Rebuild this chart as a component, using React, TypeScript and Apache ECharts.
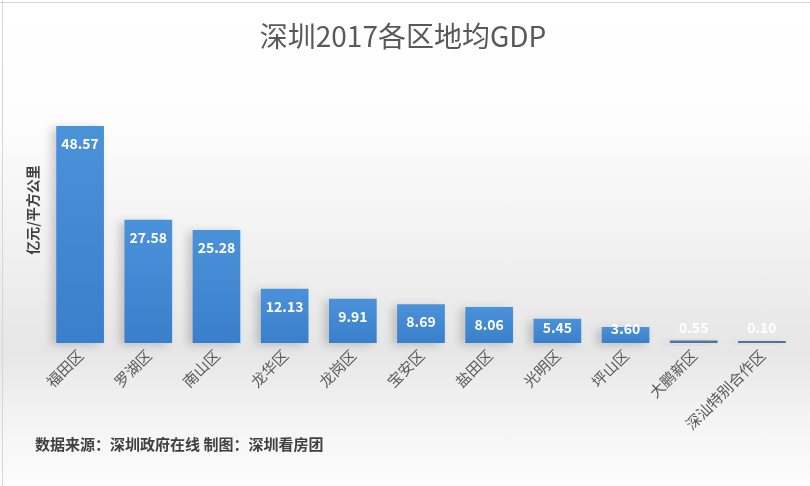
import React, { useEffect, useRef } from "react";
import * as echarts from "echarts";

const titleText = "深圳2017各区地均GDP";
const yAxisName = "亿元/平方公里";
const sourceText = "数据来源：深圳政府在线 制图：深圳看房团";
const districts = [
  "福田区",
  "罗湖区",
  "南山区",
  "龙华区",
  "龙岗区",
  "宝安区",
  "盐田区",
  "光明区",
  "坪山区",
  "大鹏新区",
  "深汕特别合作区",
];
const gdpPerKm2 = [48.57, 27.58, 25.28, 12.13, 9.91, 8.69, 8.06, 5.45, 3.6, 0.55, 0.1];

const FONT = '"Noto Sans CJK SC", "Noto Sans", sans-serif';

export default function App() {
  const ref = useRef<HTMLDivElement>(null);
  useEffect(() => {
    if (!ref.current) return;
    const chart = echarts.init(ref.current, null, { renderer: "svg" });
    const barColor = new echarts.graphic.LinearGradient(0, 0, 0, 1, [
      { offset: 0, color: "#4b92d9" },
      { offset: 1, color: "#3a7fcb" },
    ]);
    const data = gdpPerKm2.map((v) => {
      let label: any;
      let itemStyle: any;
      if (v < 1) {
        label = { position: "top", distance: 7 };
        itemStyle = { color: "#52739f" };
      } else if (v < 5) label = { position: "top", distance: -8 };
      else if (v < 7) label = { position: "insideTop", distance: 1 };
      else label = { position: "insideTop", distance: 10 };
      return itemStyle ? { value: v, label, itemStyle } : { value: v, label };
    });
    chart.setOption({
      animation: false,
      graphic: [
        {
          type: "rect",
          z: -100,
          silent: true,
          shape: { x: 0, y: 0, width: 810, height: 486 },
          style: {
            fill: new echarts.graphic.LinearGradient(0, 0, 0, 1, [
              { offset: 0, color: "#ffffff" },
              { offset: 0.25, color: "#fdfdfd" },
              { offset: 0.55, color: "#efefef" },
              { offset: 0.72, color: "#e6e6e6" },
              { offset: 0.85, color: "#f3f3f3" },
              { offset: 1, color: "#fcfcfc" },
            ]),
          },
        },
        {
          type: "line",
          silent: true,
          shape: { x1: 0, y1: 2.5, x2: 810, y2: 2.5 },
          style: { stroke: "#d6d6d6", lineWidth: 1 },
        },
        {
          type: "line",
          silent: true,
          shape: { x1: 2.5, y1: 0, x2: 2.5, y2: 486 },
          style: { stroke: "#d6d6d6", lineWidth: 1 },
        },
        {
          type: "text",
          x: 403,
          y: 35,
          style: {
            text: titleText,
            fill: "#595959",
            font: `normal 28px ${FONT}`,
            textAlign: "center",
            textVerticalAlign: "middle",
          },
        },
        {
          type: "text",
          x: 32,
          y: 210,
          rotation: Math.PI / 2,
          style: {
            text: yAxisName,
            fill: "#404040",
            font: `bold 14px ${FONT}`,
            textAlign: "center",
            textVerticalAlign: "middle",
          },
        },
        {
          type: "text",
          x: 35,
          y: 443,
          style: {
            text: sourceText,
            fill: "#404040",
            font: `bold 15px ${FONT}`,
            textAlign: "left",
            textVerticalAlign: "middle",
          },
        },
      ],
      grid: { left: 46, right: 14, top: 75, bottom: 143, containLabel: false },
      xAxis: {
        type: "category",
        data: districts,
        axisLine: { show: false },
        axisTick: { show: false },
        axisLabel: {
          rotate: 45,
          margin: 9,
          color: "#595959",
          fontSize: 15,
          fontFamily: FONT,
          interval: 0,
        },
      },
      yAxis: {
        type: "value",
        min: 0,
        max: 60,
        show: false,
        splitLine: { show: false },
      },
      series: [
        {
          type: "bar",
          data,
          barCategoryGap: "30%",
          barMinHeight: 2,
          itemStyle: {
            color: barColor,
            shadowColor: "rgba(0,0,0,0.18)",
            shadowBlur: 8,
            shadowOffsetX: -5,
            shadowOffsetY: 2,
          },
          label: {
            show: true,
            color: "#ffffff",
            fontWeight: "bold",
            fontSize: 14,
            fontFamily: FONT,
            formatter: (p: any) => Number(p.value).toFixed(2),
          },
        },
      ],
    });
    return () => chart.dispose();
  }, []);
  return (
    <div
      ref={ref}
      style={{ position: "fixed", left: 0, top: 0, width: 810, height: 486 }}
    />
  );
}
